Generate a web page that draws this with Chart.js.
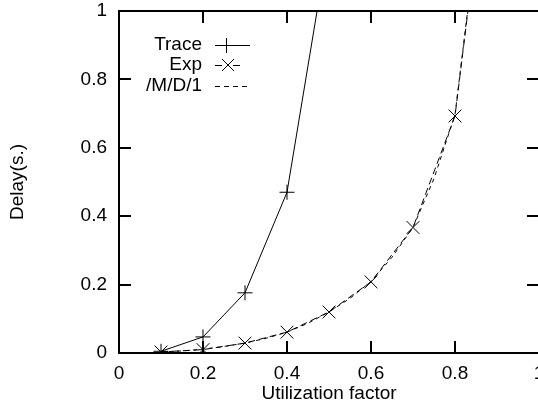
<!DOCTYPE html>
<html>
<head>
<meta charset="utf-8">
<script src="https://cdn.jsdelivr.net/npm/chart.js@4/dist/chart.umd.min.js"></script>
<style>
    body { margin: 0; overflow: hidden; background: #fff; }
</style>
</head>
<body>
<canvas id="delayChart" width="560" height="406"></canvas>
<script>
let traceX = [0.1, 0.2, 0.3, 0.4, 0.5];
let traceY = [0.005, 0.047, 0.176, 0.47, 1.21];

let expX = [0.1, 0.2, 0.3, 0.4, 0.5, 0.6, 0.7, 0.8, 0.9];
let expY = [0.003, 0.01, 0.029, 0.061, 0.12, 0.208, 0.367, 0.693, 1.69];

let mdX = [0.1, 0.15, 0.2, 0.25, 0.3, 0.35, 0.4, 0.45, 0.5, 0.55, 0.6, 0.65, 0.7, 0.75, 0.8, 0.85];
let mdY = [0.003, 0.006, 0.011, 0.019, 0.029, 0.043, 0.061, 0.087, 0.12, 0.16, 0.209, 0.28, 0.367, 0.51, 0.697, 1.2];

let xTicks = [0, 0.2, 0.4, 0.6, 0.8, 1];
let yTicks = [0, 0.2, 0.4, 0.6, 0.8, 1];

let fontName = "'Liberation Sans', Arial, sans-serif";

function toPoints(xs, ys) {
    let pts = [];
    for (let i = 0; i < xs.length; i++) {
        pts.push({ x: xs[i], y: ys[i] });
    }
    return pts;
}

function tickText(v) {
    return String(+v.toFixed(1));
}

// gnuplot style frame, ticks pointing inwards on all four sides
let framePlugin = {
    id: 'frame',
    afterDraw(chart) {
        let ctx = chart.ctx;
        let a = chart.chartArea;
        let xs = chart.scales.x;
        let ys = chart.scales.y;
        let len = 12;
        ctx.save();
        ctx.strokeStyle = '#000';
        ctx.lineWidth = 2;
        ctx.setLineDash([]);
        ctx.strokeRect(a.left, a.top, a.right - a.left, a.bottom - a.top);
        ctx.beginPath();
        xTicks.forEach(v => {
            let px = Math.round(xs.getPixelForValue(v));
            ctx.moveTo(px, a.bottom); ctx.lineTo(px, a.bottom - len);
            ctx.moveTo(px, a.top); ctx.lineTo(px, a.top + len);
        });
        yTicks.forEach(v => {
            let py = Math.round(ys.getPixelForValue(v));
            ctx.moveTo(a.left, py); ctx.lineTo(a.left + len, py);
            ctx.moveTo(a.right, py); ctx.lineTo(a.right - len, py);
        });
        ctx.stroke();
        ctx.restore();
    }
};

// key in the top left corner: labels right aligned, sample on the right
let keyPlugin = {
    id: 'key',
    afterDraw(chart) {
        let ctx = chart.ctx;
        let rows = [
            { label: 'Trace', y: 45, dash: [], mark: 'plus' },
            { label: 'Exp', y: 65, dash: [7, 11], mark: 'x' },
            { label: '/M/D/1', y: 86, dash: [5, 4], mark: null }
        ];
        ctx.save();
        ctx.fillStyle = '#000';
        ctx.strokeStyle = '#000';
        ctx.font = '19px ' + fontName;
        ctx.textAlign = 'right';
        ctx.textBaseline = 'middle';
        rows.forEach(r => {
            ctx.fillText(r.label, 202, r.y);
            ctx.lineWidth = 1;
            ctx.setLineDash(r.dash);
            ctx.beginPath();
            ctx.moveTo(215, r.y + 0.5);
            ctx.lineTo(250, r.y + 0.5);
            ctx.stroke();
            ctx.setLineDash([]);
            ctx.beginPath();
            if (r.mark === 'plus') {
                ctx.moveTo(219, r.y + 0.5); ctx.lineTo(234, r.y + 0.5);
                ctx.moveTo(226.5, r.y - 7); ctx.lineTo(226.5, r.y + 8);
            } else if (r.mark === 'x') {
                ctx.moveTo(222, r.y - 6); ctx.lineTo(234, r.y + 6);
                ctx.moveTo(222, r.y + 6); ctx.lineTo(234, r.y - 6);
            }
            ctx.stroke();
        });
        ctx.restore();
    }
};

let chartCanvas = document.getElementById('delayChart');

let delayChart = new Chart(chartCanvas, {
    type: 'line',
    data: {
        datasets: [
            {
                label: 'Trace',
                data: toPoints(traceX, traceY),
                borderColor: '#000',
                borderWidth: 1,
                pointStyle: 'cross',
                pointRadius: 7.5,
                pointBorderWidth: 1,
                pointBorderColor: '#000',
                tension: 0
            },
            {
                label: 'Exp',
                data: toPoints(expX, expY),
                borderColor: '#000',
                borderWidth: 1,
                borderDash: [7, 4],
                pointStyle: 'crossRot',
                pointRadius: 9,
                pointBorderWidth: 1,
                pointBorderColor: '#000',
                tension: 0
            },
            {
                label: '/M/D/1',
                data: toPoints(mdX, mdY),
                borderColor: '#000',
                borderWidth: 1,
                borderDash: [4, 4],
                pointRadius: 0,
                tension: 0
            }
        ]
    },
    options: {
        responsive: false,
        animation: false,
        devicePixelRatio: 1,
        layout: { padding: { left: 0, right: 21, top: 11, bottom: 0 } },
        plugins: {
            legend: { display: false },
            tooltip: { enabled: false }
        },
        scales: {
            x: {
                type: 'linear',
                min: 0,
                max: 1,
                afterFit: s => {
                    s.height = 53;
                    s.paddingLeft = 0;
                    s.paddingRight = 0;
                },
                afterBuildTicks: s => { s.ticks = xTicks.map(v => ({ value: v })); },
                grid: { display: false, drawTicks: false },
                border: { display: false },
                ticks: {
                    color: '#000',
                    padding: 9,
                    maxRotation: 0,
                    callback: tickText,
                    font: { family: fontName, size: 19 }
                },
                title: {
                    display: true,
                    text: 'Utilization factor',
                    color: '#000',
                    padding: { top: 0, bottom: 1 },
                    font: { family: fontName, size: 19 }
                }
            },
            y: {
                type: 'linear',
                min: 0,
                max: 1,
                afterFit: s => {
                    s.width = 119;
                    s.paddingTop = 0;
                    s.paddingBottom = 0;
                },
                afterBuildTicks: s => { s.ticks = yTicks.map(v => ({ value: v })); },
                grid: { display: false, drawTicks: false },
                border: { display: false },
                ticks: {
                    color: '#000',
                    padding: 12,
                    callback: tickText,
                    font: { family: fontName, size: 19 }
                },
                title: {
                    display: true,
                    text: 'Delay(s.)',
                    color: '#000',
                    padding: { top: 6, bottom: 0 },
                    font: { family: fontName, size: 19 }
                }
            }
        }
    },
    plugins: [framePlugin, keyPlugin]
});
</script>
</body>
</html>
